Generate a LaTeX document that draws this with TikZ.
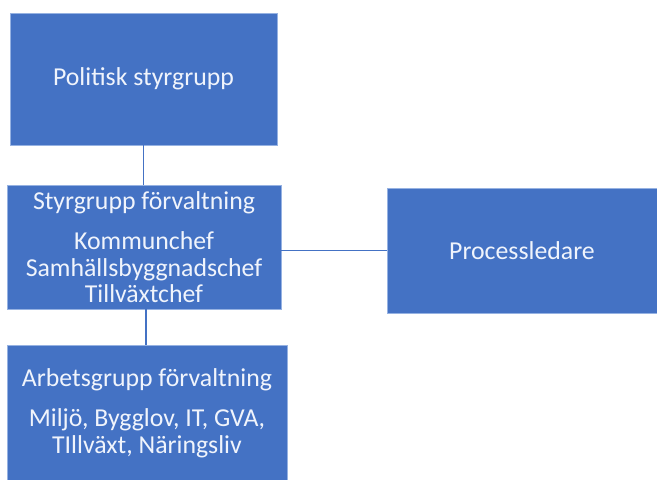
\documentclass[tikz,border=0pt]{standalone}
\usepackage{fontspec}
\setmainfont{Carlito}
\usepackage{tikz}
\usetikzlibrary{positioning}

\definecolor{boxblue}{RGB}{68,114,196}
\definecolor{boxedge}{RGB}{150,178,226}
\definecolor{boxtext}{RGB}{240,244,252}

\begin{document}
\begin{tikzpicture}[x=1pt, y=-1pt,
    orgbox/.style={rectangle, draw=boxedge, line width=0.6pt, fill=boxblue, text=boxtext,
        align=center, inner sep=0pt, font=\fontsize{25.8}{26.5}\selectfont},
    link/.style={draw=boxblue, line width=1.8pt}
    ]
        \useasboundingbox (0,0) rectangle (657,480);
        \begin{scope}
        \clip (0,0) rectangle (657,480);
        %Nodes
        \node[orgbox, minimum width=267pt, minimum height=132pt]
            (pol) at (143.5,79) {Politisk styrgrupp};
        \node[orgbox, minimum width=274pt, minimum height=124pt]
            (sty) at (144,247) {Styrgrupp förvaltning\\[14pt]Kommunchef\\Samhällsbyggnadschef\\Tillväxtchef};
        \node[orgbox, minimum width=270pt, minimum height=125pt]
            (proc) at (522,250.5) {Processledare};
        \node[orgbox, minimum width=280pt, minimum height=136pt]
            (arb) at (147,413) {Arbetsgrupp förvaltning\\[14pt]Miljö, Bygglov, IT, GVA,\\TIllväxt, Näringsliv};

        %Lines
        \draw[link] (pol.south) -- (pol.south |- sty.north);
        \draw[link] (sty.east |- proc.west) -- (proc.west);
        \draw[link] ([xshift=2pt]sty.south) -- ([xshift=2pt]sty.south |- arb.north);
        \end{scope}
    \end{tikzpicture}
\end{document}
